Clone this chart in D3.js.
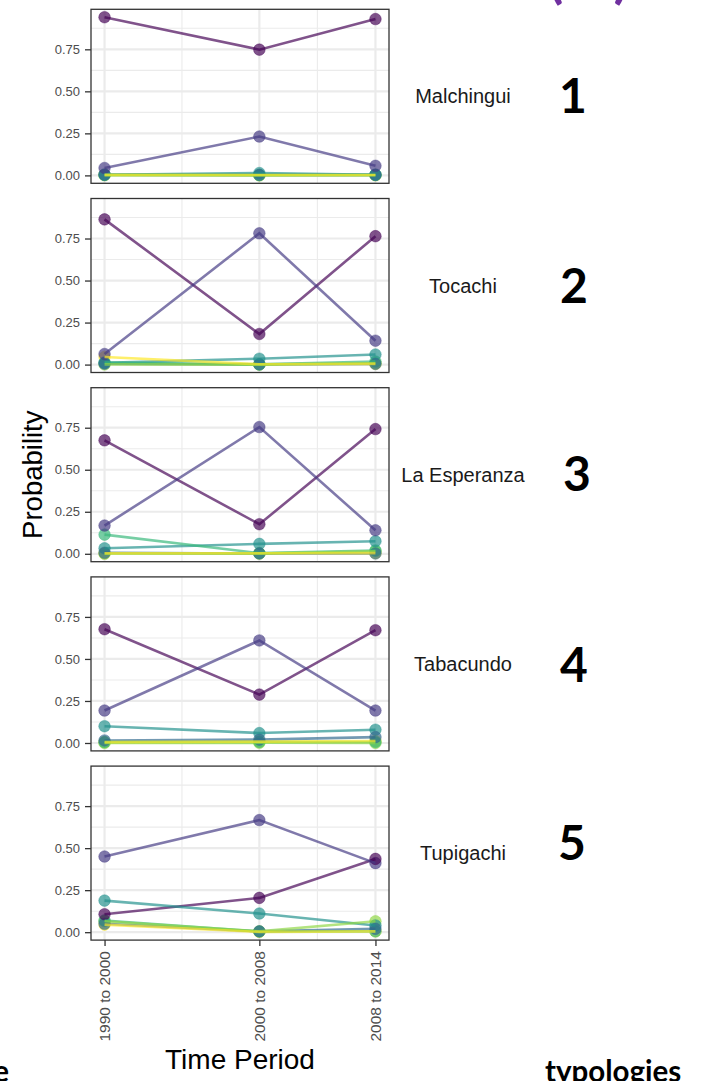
<!DOCTYPE html>
<html>
<head>
<meta charset="utf-8">
<script src="https://cdn.jsdelivr.net/npm/d3@7"></script>
<style>
  html, body { margin: 0; padding: 0; background: #ffffff; }
  svg { display: block; }
</style>
</head>
<body>
<svg id="chart" width="718" height="1081"></svg>
<script>
// Time periods (x axis) and the end year used to place each period
const periods = ["1990 to 2000", "2000 to 2008", "2008 to 2014"];
const periodEnd = [2000, 2008, 2014];

// Parishes shown as facets, top to bottom
const sites = ["Malchingui", "Tocachi", "La Esperanza", "Tabacundo", "Tupigachi"];
const siteNumbers = ["1", "2", "3", "4", "5"];

// Typologies (one line each) and their viridis colours
const typologies = ["T1", "T2", "T3", "T4", "T5", "T6", "T7"];
const typologyColors = ["#440154", "#443A83", "#31688E", "#21908C", "#35B779", "#8FD744", "#FDE725"];

// Probability of each typology per period (rows follow `typologies`)
const malchingui = [
  [0.941, 0.748, 0.930],
  [0.044, 0.231, 0.057],
  [0.004, 0.003, 0.003],
  [0.004, 0.014, 0.004],
  [0.003, 0.002, 0.003],
  [0.001, 0.000, 0.001],
  [0.003, 0.002, 0.002]
];
const tocachi = [
  [0.864, 0.182, 0.764],
  [0.063, 0.781, 0.142],
  [0.005, 0.001, 0.004],
  [0.010, 0.035, 0.060],
  [0.012, 0.001, 0.018],
  [0.001, 0.000, 0.008],
  [0.045, 0.002, 0.004]
];
const laEsperanza = [
  [0.675, 0.176, 0.742],
  [0.168, 0.754, 0.140],
  [0.006, 0.002, 0.002],
  [0.033, 0.059, 0.075],
  [0.114, 0.004, 0.020],
  [0.000, 0.001, 0.015],
  [0.003, 0.003, 0.004]
];
const tabacundo = [
  [0.677, 0.288, 0.671],
  [0.193, 0.610, 0.193],
  [0.015, 0.020, 0.035],
  [0.100, 0.059, 0.079],
  [0.005, 0.006, 0.006],
  [0.000, 0.001, 0.000],
  [0.005, 0.008, 0.012]
];
const tupigachi = [
  [0.107, 0.204, 0.436],
  [0.450, 0.667, 0.411],
  [0.050, 0.005, 0.020],
  [0.188, 0.111, 0.040],
  [0.070, 0.004, 0.005],
  [0.065, 0.005, 0.065],
  [0.045, 0.002, 0.005]
];
const siteValues = [malchingui, tocachi, laEsperanza, tabacundo, tupigachi];

// Y axis breaks
const yBreaks = [0, 0.25, 0.5, 0.75];
const yMinor = [0.125, 0.375, 0.625, 0.875];

// ---------------------------------------------------------------
const svg = d3.select("#chart");
const FONT = "'Liberation Sans', Arial, Helvetica, sans-serif";

const panelLeft = 91, panelRight = 389;
const panelTop0 = 9.3, panelStep = 189.2, panelH = 174;

// Shared scales (ggplot-style 5% expansion)
const allVals = siteValues.flat(2);
const yMax = d3.max(allVals), yMin = 0;
const yPad = (yMax - yMin) * 0.05;
const xPad = (periodEnd[2] - periodEnd[0]) * 0.05;
const x = d3.scaleLinear()
  .domain([periodEnd[0] - xPad, periodEnd[2] + xPad])
  .range([panelLeft, panelRight]);
const xMinor = [(periodEnd[0] + periodEnd[1]) / 2, (periodEnd[1] + periodEnd[2]) / 2];

sites.forEach((site, i) => {
  const top = panelTop0 + i * panelStep;
  const bottom = top + panelH;
  const y = d3.scaleLinear().domain([yMin - yPad, yMax + yPad]).range([bottom, top]);
  const g = svg.append("g").attr("class", "panel");

  // background
  g.append("rect").attr("x", panelLeft).attr("y", top)
    .attr("width", panelRight - panelLeft).attr("height", panelH).attr("fill", "#ffffff");

  // minor grid
  g.selectAll(".gy-minor").data(yMinor).join("line")
    .attr("x1", panelLeft).attr("x2", panelRight)
    .attr("y1", d => y(d)).attr("y2", d => y(d))
    .attr("stroke", "#EBEBEB").attr("stroke-width", 1.1);
  g.selectAll(".gx-minor").data(xMinor).join("line")
    .attr("y1", top).attr("y2", bottom)
    .attr("x1", d => x(d)).attr("x2", d => x(d))
    .attr("stroke", "#EBEBEB").attr("stroke-width", 1.1);
  // major grid
  g.selectAll(".gy-major").data(yBreaks).join("line")
    .attr("x1", panelLeft).attr("x2", panelRight)
    .attr("y1", d => y(d)).attr("y2", d => y(d))
    .attr("stroke", "#EBEBEB").attr("stroke-width", 2.2);
  g.selectAll(".gx-major").data(periodEnd).join("line")
    .attr("y1", top).attr("y2", bottom)
    .attr("x1", d => x(d)).attr("x2", d => x(d))
    .attr("stroke", "#EBEBEB").attr("stroke-width", 2.2);

  const series = siteValues[i].map((vals, k) => ({
    k, color: typologyColors[k],
    pts: vals.map((v, j) => ({ x: periodEnd[j], v }))
  }));

  const line = d3.line().x(d => x(d.x)).y(d => y(d.v));

  // points (last typology first so the first sits on top)
  series.slice().reverse().forEach(s => {
    g.selectAll(null).data(s.pts).join("circle")
      .attr("cx", d => x(d.x)).attr("cy", d => y(d.v)).attr("r", 5.8)
      .attr("fill", s.color).attr("fill-opacity", 0.68)
      .attr("stroke", s.color).attr("stroke-opacity", 0.5).attr("stroke-width", 0.8);
  });
  // lines
  series.forEach(s => {
    g.append("path").datum(s.pts).attr("d", line)
      .attr("fill", "none").attr("stroke", s.color)
      .attr("stroke-opacity", 0.68).attr("stroke-width", 2.6);
  });

  // border
  g.append("rect").attr("x", panelLeft).attr("y", top)
    .attr("width", panelRight - panelLeft).attr("height", panelH)
    .attr("fill", "none").attr("stroke", "#333333").attr("stroke-width", 1.3);

  // y axis
  const ya = g.append("g").attr("transform", `translate(${panelLeft},0)`)
    .call(d3.axisLeft(y).tickValues(yBreaks).tickFormat(d3.format(".2f")).tickSize(6).tickPadding(5));
  ya.select(".domain").remove();
  ya.selectAll(".tick line").attr("stroke", "#333333").attr("stroke-width", 1.3);
  ya.selectAll(".tick text").attr("fill", "#4D4D4D")
    .style("font-family", FONT).style("font-size", "13px");

  // facet label
  svg.append("text").attr("x", 463).attr("y", (top + bottom) / 2)
    .attr("text-anchor", "middle").attr("dy", "0.35em")
    .attr("fill", "#1A1A1A").style("font-family", FONT).style("font-size", "20px")
    .text(site);

  // bottom axis on the last panel
  if (i === sites.length - 1) {
    const xa = g.append("g").attr("transform", `translate(0,${bottom})`)
      .call(d3.axisBottom(x).tickValues(periodEnd).tickFormat((d, j) => periods[j]).tickSize(6));
    xa.select(".domain").remove();
    xa.selectAll(".tick line").attr("stroke", "#333333").attr("stroke-width", 1.3);
    xa.selectAll(".tick text")
      .attr("transform", "rotate(-90)")
      .attr("x", -11).attr("y", 0).attr("dy", "0.35em")
      .attr("text-anchor", "end").attr("fill", "#4D4D4D")
      .style("font-family", FONT).style("font-size", "15.5px");
  }
});

// big panel numbers
const numberPos = [[573, 96], [574, 286], [577, 474], [574, 665], [572, 843]];
siteNumbers.forEach((n, i) => {
  svg.append("text").attr("x", numberPos[i][0]).attr("y", numberPos[i][1])
    .attr("text-anchor", "middle").attr("dy", "0.36em")
    .attr("fill", "#000000").style("font-family", "Lato, 'Open Sans', sans-serif")
    .style("font-weight", "bold").style("font-size", "48px")
    .text(n);
});

// axis titles
svg.append("text")
  .attr("transform", `translate(42,${panelTop0 + 2 * panelStep + panelH / 2}) rotate(-90)`)
  .attr("text-anchor", "middle")
  .attr("fill", "#000000").style("font-family", FONT).style("font-size", "27.5px")
  .text("Probability");
svg.append("text").attr("x", (panelLeft + panelRight) / 2).attr("y", 1069)
  .attr("text-anchor", "middle")
  .attr("fill", "#000000").style("font-family", FONT).style("font-size", "28px")
  .text("Time Period");

// surrounding figure text
svg.append("text").attr("x", 548).attr("y", -3)
  .attr("fill", "#7030A0").style("font-family", "Lato, sans-serif")
  .style("font-weight", "bold").style("font-size", "56px")
  .style("letter-spacing", "10px")
  .text("(b)");
svg.append("text").attr("x", 545).attr("y", 1082)
  .attr("fill", "#000000").style("font-family", "Lato, sans-serif")
  .style("font-weight", "bold").style("font-size", "29.5px")
  .text("typologies");
svg.append("text").attr("x", 9).attr("y", 1082).attr("text-anchor", "end")
  .attr("fill", "#000000").style("font-family", "Lato, sans-serif")
  .style("font-weight", "bold").style("font-size", "29.5px")
  .style("text-decoration", "underline")
  .text("e");
</script>
</body>
</html>
